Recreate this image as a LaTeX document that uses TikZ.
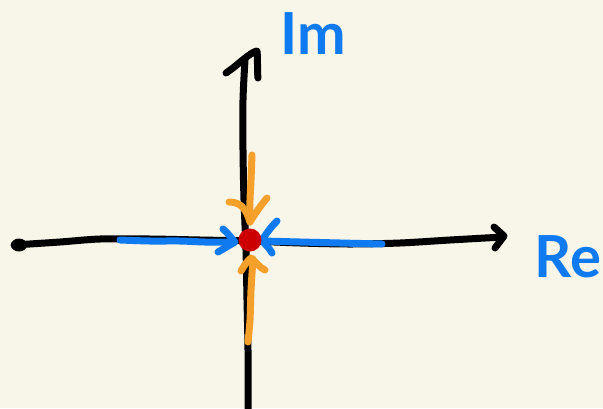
\documentclass[tikz,border=0pt]{standalone}
\usepackage{fontspec}
\setmainfont{Lato}
\definecolor{paper}{RGB}{248,245,233}
\definecolor{penblue}{RGB}{16,122,240}
\definecolor{penorange}{RGB}{244,160,42}
\definecolor{penred}{RGB}{204,0,0}
\tikzset{
  pen/.style={line width=7pt, line cap=round, line join=round},
  axis/.style={pen, draw=black},
  flowre/.style={pen, draw=penblue},
  flowim/.style={pen, draw=penorange},
  label/.style={text=penblue, font=\fontsize{58}{62}\selectfont\bfseries, inner sep=0pt}
}
\begin{document}
\begin{tikzpicture}[x=1pt,y=-1pt]
\fill[paper] (0,0) rectangle (603,408);
\useasboundingbox (0,0) rectangle (603,408);
% named points
\coordinate (xl) at (12,245);
\coordinate (xr) at (503,237);
\coordinate (yb) at (248,410);
\coordinate (yt) at (245,60);
\coordinate (o) at (250,240);
% horizontal axis
\draw[axis] plot[smooth] coordinates {(14,245) (60,242) (100,239) (150,239) (200,240) (249,241) (300,243) (350,244) (400,243) (450,240) (503,237)};
\draw[axis] (494,227) -- (504,236) -- (495,248);
\fill (19,245) ellipse (8pt and 6.5pt);
% vertical axis
\draw[axis] plot[smooth] coordinates {(248,410) (248,350) (247,300) (246,250) (244,200) (243,150) (243,100) (245,60)};
\draw[axis] (226,73) -- (233,68) .. controls (245,58) and (252,52) .. (257,51) .. controls (258,60) and (257,70) .. (258,78);
% blue arrows (real axis)
\draw[flowre] plot[smooth] coordinates {(120,240) (150,241) (180,241) (205,242) (234,242)};
\draw[flowre] (223,229) .. controls (228,233) and (231,238) .. (235,242) -- (218,252);
\draw[flowre] plot[smooth] coordinates {(382,244) (340,243) (300,242) (262,241)};
\draw[flowre] (277,221) .. controls (270,228) and (265,235) .. (262,241) .. controls (266,245) and (270,249) .. (272,253);
% orange arrows (imaginary axis)
\draw[flowim] plot[smooth] coordinates {(252,155) (251,180) (250,200) (250,222)};
\draw[flowim] (229,202) .. controls (240,202) and (246,208) .. (250,222) .. controls (256,212) and (262,204) .. (267,198);
\draw[flowim] plot[smooth] coordinates {(253,259) (251,290) (250,320) (248,342)};
\draw[flowim] (241,271) .. controls (244,266) and (247,261) .. (251,258) .. controls (256,262) and (260,268) .. (265,270);
% red point
\fill[penred] (o) circle (11.5pt);
% labels
\node[label] (im) at (313,34) {Im};
\node[label] (re) at (568,257) {Re};
\end{tikzpicture}
\end{document}
